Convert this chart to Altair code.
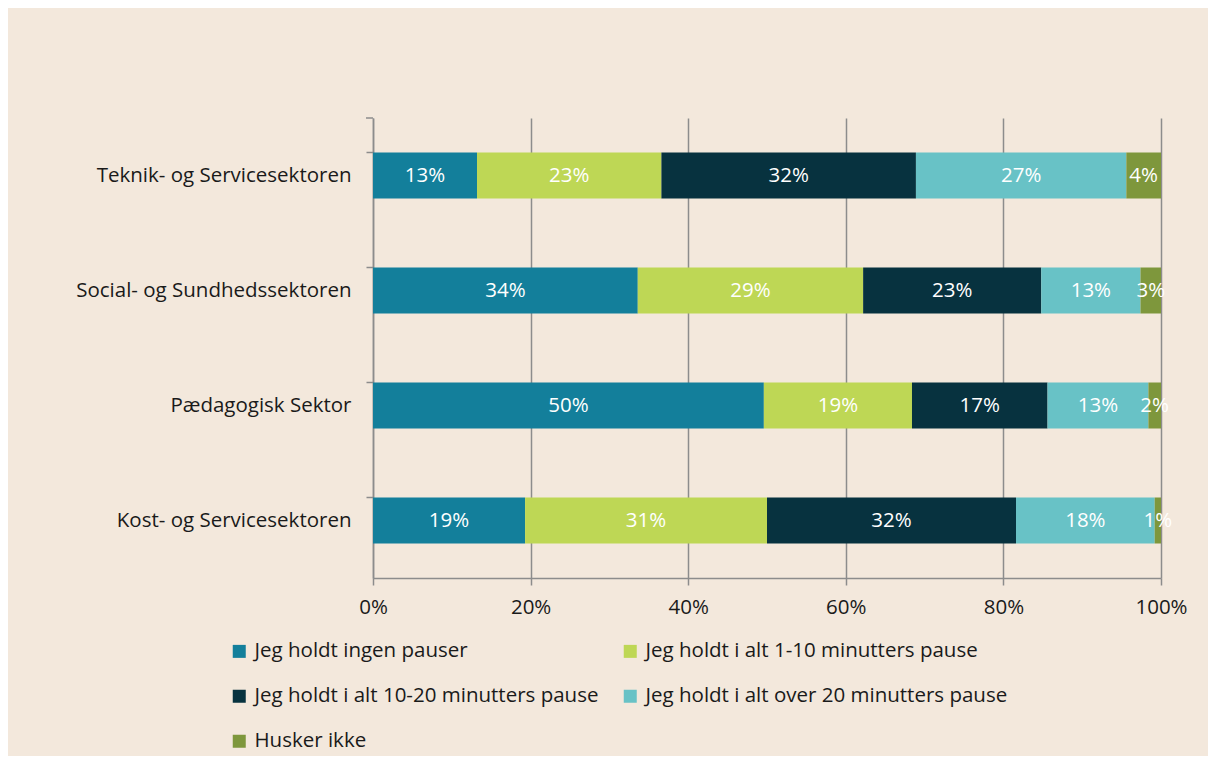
import altair as alt
import pandas as pd

sectors = ["Teknik- og Servicesektoren", "Social- og Sundhedssektoren",
           "Pædagogisk Sektor", "Kost- og Servicesektoren"]
categories = ["Jeg holdt ingen pauser", "Jeg holdt i alt 1-10 minutters pause",
              "Jeg holdt i alt 10-20 minutters pause", "Jeg holdt i alt over 20 minutters pause",
              "Husker ikke"]
colors = ["#137F9B", "#BED755", "#07323F", "#68C2C6", "#7E973C"]

v_ingen = [13.2, 33.6, 49.6, 19.3]
v_1_10 = [23.4, 28.6, 18.8, 30.7]
v_10_20 = [32.3, 22.6, 17.2, 31.6]
v_over20 = [26.7, 12.6, 12.8, 17.6]
v_husker = [4.4, 2.6, 1.6, 0.8]

series = [v_ingen, v_1_10, v_10_20, v_over20, v_husker]
rows = []
for ci, (cat, vals) in enumerate(zip(categories, series)):
    for s, v in zip(sectors, vals):
        rows.append({"sector": s, "cat": cat, "order": ci, "value": v})
df = pd.DataFrame(rows)

FONT = "Open Sans"
FS = 20.5
W, H = 788, 460

base = alt.Chart(df).transform_stack(
    stack="value", groupby=["sector"], as_=["x0", "x1"],
    sort=[alt.SortField("order", order="ascending")]
).transform_calculate(mid="(datum.x0 + datum.x1) / 2")

y_enc = alt.Y("sector:N", sort=sectors, title=None,
              scale=alt.Scale(paddingInner=0.6, paddingOuter=0.3),
              axis=alt.Axis(bandPosition=0, domainColor="#8C8C8C", domainWidth=1.5,
                            tickColor="#8C8C8C", tickWidth=1.5, tickSize=7,
                            labelPadding=15, labelFontSize=FS, labelFont=FONT,
                            labelColor="#1A1A1A", grid=False, labelLimit=500))

bars = base.mark_bar().encode(
    x=alt.X("x0:Q", scale=alt.Scale(domain=[0, 100]), title=None,
            axis=alt.Axis(values=[0, 20, 40, 60, 80, 100], labelExpr="datum.value + '%'",
                          grid=True, gridColor="#8C8C8C", gridWidth=1.5,
                          domainColor="#8C8C8C", domainWidth=1.5,
                          tickColor="#8C8C8C", tickWidth=1.5, tickSize=7,
                          labelPadding=12, labelFontSize=FS, labelFont=FONT,
                          labelColor="#1A1A1A", labelFlush=False)),
    x2="x1:Q",
    y=y_enc,
    color=alt.Color("cat:N", sort=categories, title=None,
                    scale=alt.Scale(domain=categories, range=colors),
                    legend=alt.Legend(orient="none", legendX=-144, legendY=523,
                                      columns=2, direction="horizontal",
                                      symbolType="square", symbolSize=169,
                                      symbolStrokeWidth=0, symbolOffset=0,
                                      labelFontSize=FS, labelFont=FONT,
                                      labelColor="#1A1A1A", labelLimit=600,
                                      labelOffset=5, rowPadding=24,
                                      columnPadding=21)),
    order=alt.Order("order:Q"),
)

texts = base.mark_text(color="white", fontSize=FS, font=FONT).encode(
    x="mid:Q",
    y=alt.Y("sector:N", sort=sectors),
    text="lbl:N",
).transform_calculate(lbl="format(datum.value, '.0f') + '%'")

top_tick = alt.Chart(df).mark_rule(color="#8C8C8C", strokeWidth=1.5).encode(
    x=alt.value(-7), x2=alt.value(0), y=alt.value(0)
).transform_filter("datum.order == 0 && datum.sector == 'Pædagogisk Sektor'")

chart = alt.layer(bars, texts, top_tick).properties(
    width=W, height=H,
    autosize=alt.AutoSizeParams(type="none"),
    padding={"left": 365, "top": 110, "right": 47, "bottom": 178},
    background="#F3E8DC",
).configure_view(stroke=None)

chart.save("out.html", embed_options={"renderer": "svg", "actions": False})
